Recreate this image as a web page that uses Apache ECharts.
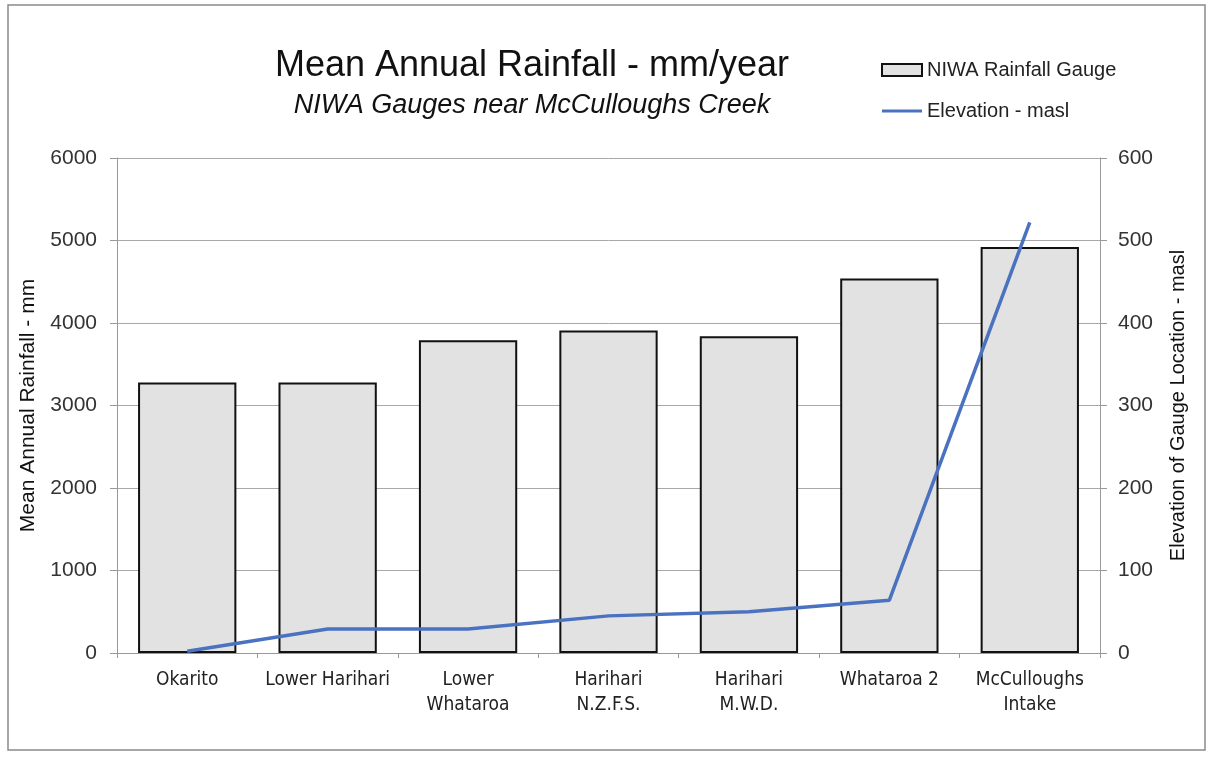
<!DOCTYPE html>
<html><head><meta charset="utf-8">
<script src="https://cdn.jsdelivr.net/npm/echarts@6/dist/echarts.min.js"></script>
<style>html,body{margin:0;padding:0;background:#fff}#c{width:1213px;height:758px}</style>
</head><body><div id="c"></div>
<script>
var categories = ['Okarito','Lower Harihari','Lower\nWhataroa','Harihari\nN.Z.F.S.','Harihari\nM.W.D.','Whataroa 2','McCulloughs\nIntake'];
var rainfall = [3280, 3280, 3790, 3910, 3840, 4540, 4920];
var elevation = [2, 29, 29, 45, 50, 64, 522];
var leftTicks = [0, 6000, 1000];
var rightTicks = [0, 600, 100];

var chart = echarts.init(document.getElementById('c'));
var axisFont = {fontFamily:'Liberation Sans', fontSize:21, color:'#333'};
chart.setOption({
  backgroundColor:'#fff',
  animation:false,
  graphic:[{type:'rect', shape:{x:8,y:5,width:1197,height:745}, style:{fill:'none', stroke:'#8a8a8a', lineWidth:1.5}, silent:true}],
  title:[
    {text:'Mean Annual Rainfall - mm/year', left:527, top:43, textAlign:'center',
     textStyle:{fontFamily:'Liberation Sans', fontSize:36, fontWeight:'normal', color:'#111'}},
    {text:'NIWA Gauges near McCulloughs Creek', left:527, top:87, textAlign:'center',
     textStyle:{fontFamily:'Liberation Sans', fontSize:27, fontStyle:'italic', fontWeight:'normal', color:'#111'}}
  ],
  legend:{
    orient:'vertical', left:876, top:55, itemGap:21, itemWidth:40, itemHeight:12,
    textStyle:{fontFamily:'Liberation Sans', fontSize:20, color:'#222'},
    data:[{name:'NIWA Rainfall Gauge', icon:'rect'},
          {name:'Elevation - masl', icon:'path://M0,5 L40,5 L40,8 L0,8 Z'}]
  },
  grid:{left:117, right:113, top:158, bottom:105},
  xAxis:{type:'category', data:categories,
    axisLine:{lineStyle:{color:'#999'}}, axisTick:{show:true, length:5, lineStyle:{color:'#999'}},
    axisLabel:{fontFamily:'DejaVu Sans Condensed, Liberation Sans', fontSize:19, color:'#222', lineHeight:25, margin:15, interval:0}},
  yAxis:[
    {type:'value', min:leftTicks[0], max:leftTicks[1], interval:leftTicks[2],
     name:'Mean Annual Rainfall - mm', nameLocation:'middle', nameGap:78, nameRotate:90,
     nameTextStyle:{fontFamily:'Liberation Sans', fontSize:21, color:'#111'},
     axisLine:{show:true, lineStyle:{color:'#999'}}, axisTick:{show:true, length:7, lineStyle:{color:'#999'}},
     axisLabel:Object.assign({margin:20, formatter:function(v){return String(v);}}, axisFont),
     splitLine:{lineStyle:{color:'#a8a8a8', width:1}}},
    {type:'value', min:rightTicks[0], max:rightTicks[1], interval:rightTicks[2],
     name:'Elevation of Gauge Location - masl', nameLocation:'middle', nameGap:68, nameRotate:90,
     nameTextStyle:{fontFamily:'Liberation Sans', fontSize:20, color:'#111'},
     axisLine:{show:true, lineStyle:{color:'#999'}}, axisTick:{show:true, length:7, lineStyle:{color:'#999'}},
     axisLabel:Object.assign({margin:18, formatter:function(v){return String(v);}}, axisFont),
     splitLine:{show:false}}
  ],
  series:[
    {name:'NIWA Rainfall Gauge', type:'bar', data:rainfall, barWidth:'70%',
     itemStyle:{color:'#e2e2e2', borderColor:'#111', borderWidth:2}},
    {name:'Elevation - masl', type:'line', yAxisIndex:1, data:elevation, symbol:'none',
     lineStyle:{color:'#4a72c0', width:3.5}, itemStyle:{color:'#4a72c0'}}
  ]
});
</script></body></html>
